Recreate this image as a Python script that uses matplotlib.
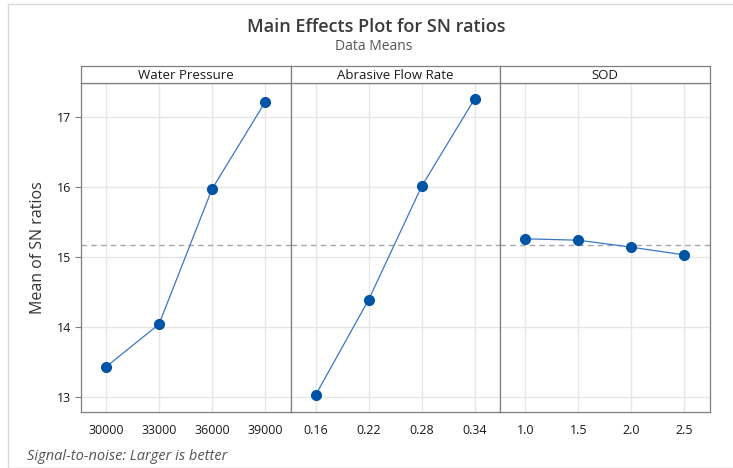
import numpy as np
import matplotlib.pyplot as plt
from matplotlib.patches import Rectangle

plt.rcParams['font.family'] = ['Open Sans', 'DejaVu Sans']

# datos
factores = ["Water Pressure", "Abrasive Flow Rate", "SOD"]
niveles_presion = ["30000", "33000", "36000", "39000"]
niveles_flujo = ["0.16", "0.22", "0.28", "0.34"]
niveles_sod = ["1.0", "1.5", "2.0", "2.5"]
sn_presion = [13.43, 14.04, 15.97, 17.21]
sn_flujo = [13.03, 14.39, 16.01, 17.26]
sn_sod = [15.26, 15.24, 15.14, 15.03]

niveles = [niveles_presion, niveles_flujo, niveles_sod]
valores = [sn_presion, sn_flujo, sn_sod]
media = np.mean(sn_presion + sn_flujo + sn_sod)

W, H = 733, 468
fig = plt.figure(figsize=(W / 100, H / 100), dpi=100)

# marco exterior gris
fig.patches.append(Rectangle((8 / W, 0), 1, (H - 4) / H, transform=fig.transFigure,
                             fill=False, edgecolor="#d9d9d9", lw=1))

fig.text(376 / W, 1 - 27 / H, "Main Effects Plot for SN ratios", ha="center", va="center",
         fontsize=13, weight="semibold", color="#3a3a3a")
fig.text(374 / W, 1 - 46 / H, "Data Means", ha="center", va="center", fontsize=10, color="#555555")

izq, der, arriba, abajo, franja = 81, 710, 83, 412, 17
ancho = (der - izq) / 3
linea = "#7f7f7f"

for j in range(3):
    x0 = izq + j * ancho
    ax = fig.add_axes([x0 / W, 1 - abajo / H, ancho / W, (abajo - arriba) / H])
    pos = np.arange(len(niveles[j]))
    ax.axhline(media, color="#a6a6a6", ls=(0, (4, 3)), lw=1, zorder=1)
    ax.plot(pos, valores[j], "-", color="#3b77c4", lw=0.9, zorder=2)
    ax.plot(pos, valores[j], "o", color="#0054a6", ms=7, zorder=3)
    ax.set_xlim(-25 / 53, (ancho - 25) / 53)
    ax.set_ylim(13 - (412 - 397) / 70, 17 + (117 - 83) / 70)
    ax.set_xticks(pos)
    ax.set_xticklabels(niveles[j])
    ax.set_yticks([13, 14, 15, 16, 17])
    ax.grid(True, color="#e6e6e6", lw=1)
    ax.set_axisbelow(True)
    for s in ax.spines.values():
        s.set_color(linea)
        s.set_linewidth(0.9)
    ax.tick_params(axis="x", length=0, pad=9, labelsize=9, labelcolor="#1a1a1a")
    if j == 0:
        ax.tick_params(axis="y", length=4, color=linea, labelsize=9, labelcolor="#1a1a1a", pad=3)
        ax.set_ylabel("Mean of SN ratios", fontsize=11.5, color="#333333", labelpad=8)
    else:
        ax.tick_params(axis="y", length=0, labelleft=False)
    for t in ax.get_xticklabels() + ax.get_yticklabels():
        t.set_fontweight("medium")

    # franja del titulo del panel
    st = fig.add_axes([x0 / W, 1 - arriba / H, ancho / W, franja / H])
    st.set_xticks([])
    st.set_yticks([])
    for s in st.spines.values():
        s.set_color(linea)
        s.set_linewidth(0.9)
    st.text(0.5, 0.45, factores[j], ha="center", va="center", fontsize=9.5,
            weight="medium", color="#1a1a1a", transform=st.transAxes)

fig.text(27 / W, 1 - 457 / H, "Signal-to-noise: Larger is better", ha="left", va="center",
         fontsize=10.5, style="italic", color="#555555")

fig.savefig("out.png", dpi=100)
